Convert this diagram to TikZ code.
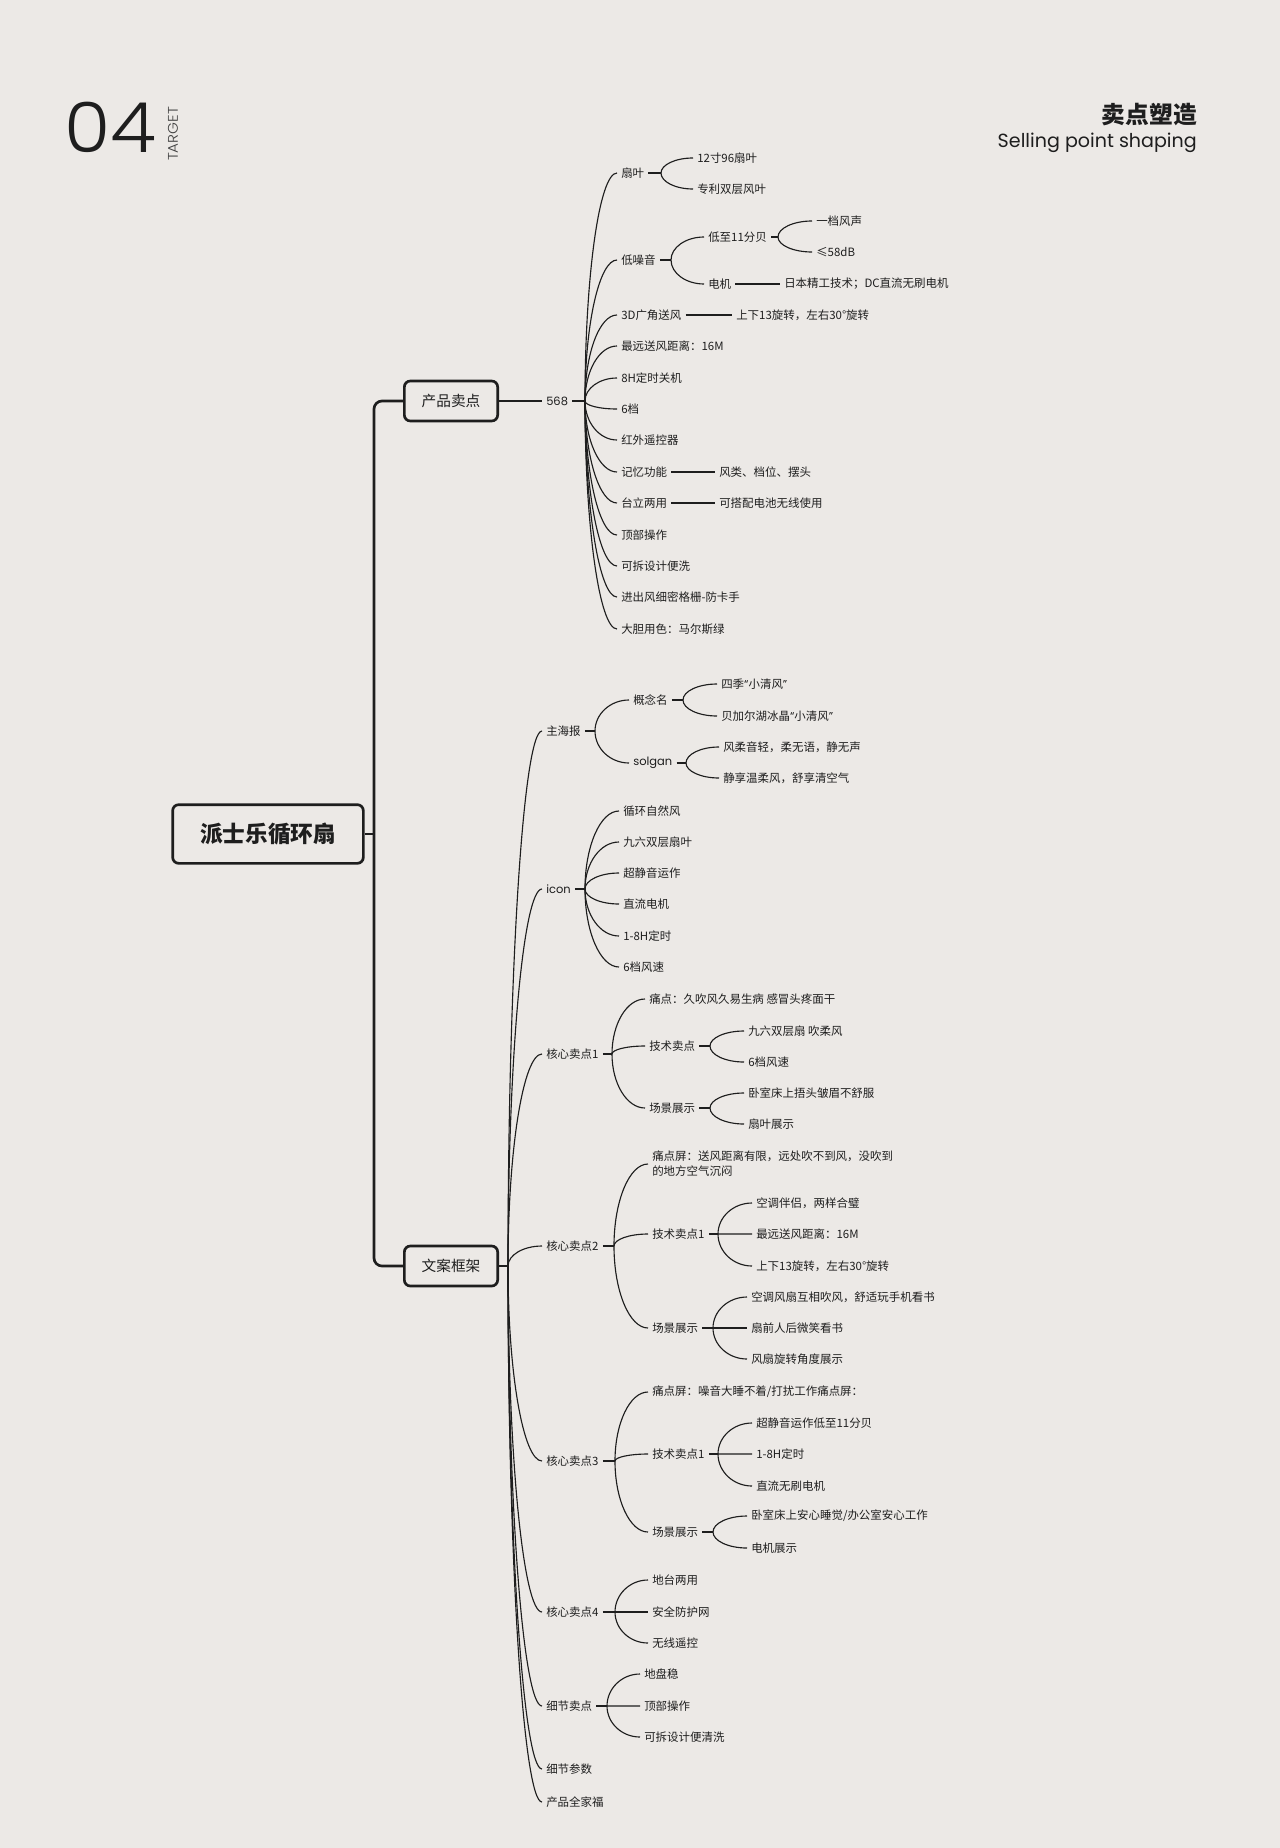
\documentclass[tikz,border=0pt]{standalone}
\usepackage{fontspec}
\setmainfont{Noto Sans CJK SC}
\newfontfamily\latinfont{Poppins}
\IfFontExistsTF{Poppins Light}{\newfontfamily\thinfont[FakeStretch=1.08]{Poppins Light}}{\newfontfamily\thinfont[FakeStretch=1.08]{Poppins}}
\usetikzlibrary{positioning,calc}
\definecolor{paper}{RGB}{236,233,230}
\definecolor{ink}{RGB}{30,30,30}

\begin{document}
\begin{tikzpicture}[x=0.75pt,y=-0.75pt,every node/.style={text=ink},leaf/.style={anchor=west,inner xsep=3pt,inner ysep=1pt,font=\fontsize{8.6}{10.5}\selectfont},latin/.style={font=\fontsize{8.6}{10.5}\selectfont\latinfont},box/.style={draw=ink,line width=2pt,rounded corners=4.5pt,minimum width=70pt,minimum height=30pt,font=\fontsize{11}{13}\selectfont},trunk/.style={draw=ink,line width=2pt,rounded corners=6pt},stub/.style={draw=ink,line width=0.85pt},branch/.style={draw=ink,line width=0.85pt,to path={.. controls ($(\tikztostart)!0.55!(\tikztostart |- \tikztotarget)$) and ($(\tikztotarget)!0.55!(\tikztostart |- \tikztotarget)$) .. (\tikztotarget)}}]
\fill[paper] (0,0) rectangle (1280,1848);
\useasboundingbox (0,0) rectangle (1280,1848);
% header
\node[font=\thinfont\fontsize{52}{52}\selectfont,inner sep=0pt,anchor=base west] (num) at (64,153){04};
\node[font=\thinfont\fontsize{10.5}{10.5}\selectfont,rotate=90,inner sep=0pt,text=ink!85] (tag) at (173,134){TARGET};
\node[anchor=east,font=\fontsize{17.8}{20}\selectfont\bfseries,inner sep=0pt] (titlecn) at (1197,115){卖点塑造};
\node[anchor=base east,font=\fontsize{14.3}{17}\selectfont\latinfont,inner sep=0pt] (titleen) at (1197,148){Selling point shaping};
% root and main branches
\node[box,minimum width=143pt,minimum height=44pt,font=\fontsize{17}{20}\selectfont\bfseries] (root) at (268,834){派士乐循环扇};
\coordinate (spine) at (374,834);
\node[box] (prod) at (451,401){产品卖点};
\node[box] (copy) at (451,1266){文案框架};
% product selling points
\node[leaf,latin] (n568) at (542,401){568};
\coordinate (f568) at (585,401);
\node[leaf] (blade) at (617,173){扇叶};
\coordinate (bladeF) at (661,173);
\node[leaf] (blade1) at (693,158){12寸96扇叶};
\node[leaf] (blade2) at (693,189){专利双层风叶};
\node[leaf] (noise) at (617,260){低噪音};
\coordinate (noiseF) at (671,260);
\node[leaf] (low) at (704,237){低至11分贝};
\coordinate (lowF) at (778,237);
\node[leaf] (low1) at (812,221){一档风声};
\node[leaf] (low2) at (812,252){≤58dB};
\node[leaf] (motor) at (704,284){电机};
\node[leaf] (motor1) at (780,284){日本精工技术；DC直流无刷电机};
\node[leaf] (wide) at (617,315){3D广角送风};
\node[leaf] (wide1) at (732,315){上下13旋转，左右30°旋转};
\node[leaf] (reach) at (617,346){最远送风距离：16M};
\node[leaf] (timer) at (617,378){8H定时关机};
\node[leaf] (gears) at (617,409){6档};
\node[leaf] (remote) at (617,440){红外遥控器};
\node[leaf] (memory) at (617,472){记忆功能};
\node[leaf] (memory1) at (715,472){风类、档位、摆头};
\node[leaf] (dual) at (617,503){台立两用};
\node[leaf] (dual1) at (715,503){可搭配电池无线使用};
\node[leaf] (topop) at (617,535){顶部操作};
\node[leaf] (wash) at (617,566){可拆设计便洗};
\node[leaf] (grille) at (617,597){进出风细密格栅-防卡手};
\node[leaf] (color) at (617,629){大胆用色：马尔斯绿};
% copy framework
\coordinate (fcopy) at (508,1266);
\node[leaf] (poster) at (542,731){主海报};
\coordinate (posterF) at (595,731);
\node[leaf] (concept) at (629,700){概念名};
\coordinate (conceptF) at (683,700);
\node[leaf] (concept1) at (717,684){四季{\latinfont“}小清风{\latinfont”}};
\node[leaf] (concept2) at (717,716){贝加尔湖冰晶{\latinfont“}小清风{\latinfont”}};
\node[leaf,latin] (slogan) at (629,763){solgan};
\coordinate (sloganF) at (686,763);
\node[leaf] (slogan1) at (719,747){风柔音轻，柔无语，静无声};
\node[leaf] (slogan2) at (719,778){静享温柔风，舒享清空气};
\node[leaf,latin] (icon) at (542,889){icon};
\coordinate (iconF) at (585,889);
\node[leaf] (icon1) at (619,811){循环自然风};
\node[leaf] (icon2) at (619,842){九六双层扇叶};
\node[leaf] (icon3) at (619,873){超静音运作};
\node[leaf] (icon4) at (619,904){直流电机};
\node[leaf] (icon5) at (619,936){1-8H定时};
\node[leaf] (icon6) at (619,967){6档风速};
\node[leaf] (core1) at (542,1054){核心卖点1};
\coordinate (core1F) at (612,1054);
\node[leaf] (core1pain) at (645,999){痛点：久吹风久易生病 感冒头疼面干};
\node[leaf] (core1tech) at (645,1046){技术卖点};
\coordinate (core1techF) at (710,1046);
\node[leaf] (core1tech1) at (744,1031){九六双层扇 吹柔风};
\node[leaf] (core1tech2) at (744,1062){6档风速};
\node[leaf] (core1scene) at (645,1108){场景展示};
\coordinate (core1sceneF) at (710,1108);
\node[leaf] (core1scene1) at (744,1093){卧室床上捂头皱眉不舒服};
\node[leaf] (core1scene2) at (744,1124){扇叶展示};
\node[leaf] (core2) at (542,1246){核心卖点2};
\coordinate (core2F) at (614,1246);
\node[leaf,align=left,font=\fontsize{8.6}{11.25}\selectfont] (core2pain) at (648,1164){痛点屏：送风距离有限，远处吹不到风，没吹到\\的地方空气沉闷};
\node[leaf] (core2tech) at (648,1234){技术卖点1};
\coordinate (core2techF) at (718,1234);
\node[leaf] (core2tech1) at (752,1203){空调伴侣，两样合璧};
\node[leaf] (core2tech2) at (752,1234){最远送风距离：16M};
\node[leaf] (core2tech3) at (752,1266){上下13旋转，左右30°旋转};
\node[leaf] (core2scene) at (648,1328){场景展示};
\coordinate (core2sceneF) at (713,1328);
\node[leaf] (core2scene1) at (747,1297){空调风扇互相吹风，舒适玩手机看书};
\node[leaf] (core2scene2) at (747,1328){扇前人后微笑看书};
\node[leaf] (core2scene3) at (747,1359){风扇旋转角度展示};
\node[leaf] (core3) at (542,1461){核心卖点3};
\coordinate (core3F) at (615,1461);
\node[leaf] (core3pain) at (648,1392){痛点屏：噪音大睡不着/打扰工作痛点屏：};
\node[leaf] (core3tech) at (648,1454){技术卖点1};
\coordinate (core3techF) at (718,1454);
\node[leaf] (core3tech1) at (752,1423){超静音运作低至11分贝};
\node[leaf] (core3tech2) at (752,1454){1-8H定时};
\node[leaf] (core3tech3) at (752,1486){直流无刷电机};
\node[leaf] (core3scene) at (648,1532){场景展示};
\coordinate (core3sceneF) at (713,1532);
\node[leaf] (core3scene1) at (747,1516){卧室床上安心睡觉/办公室安心工作};
\node[leaf] (core3scene2) at (747,1548){电机展示};
\node[leaf] (core4) at (542,1612){核心卖点4};
\coordinate (core4F) at (615,1612);
\node[leaf] (core4a) at (648,1580){地台两用};
\node[leaf] (core4b) at (648,1612){安全防护网};
\node[leaf] (core4c) at (648,1643){无线遥控};
\node[leaf] (detail) at (542,1706){细节卖点};
\coordinate (detailF) at (607,1706);
\node[leaf] (detail1) at (640,1674){地盘稳};
\node[leaf] (detail2) at (640,1706){顶部操作};
\node[leaf] (detail3) at (640,1737){可拆设计便清洗};
\node[leaf] (params) at (542,1769){细节参数};
\node[leaf] (family) at (542,1802){产品全家福};
% connectors
\draw[trunk] (prod.west) -| (spine) |- (copy.west); \draw[trunk] (root.east) -- (spine);
\draw[stub,line width=1pt] (prod.east) -- (n568.west); \draw[stub] (n568.east) -- (f568); \draw[stub,line width=1pt] (copy.east) -- (fcopy);
\draw[branch] (f568) to (blade.west); \draw[branch] (f568) to (noise.west); \draw[branch] (f568) to (wide.west); \draw[branch] (f568) to (reach.west); \draw[branch] (f568) to (timer.west); \draw[branch] (f568) to (gears.west); \draw[branch] (f568) to (remote.west); \draw[branch] (f568) to (memory.west); \draw[branch] (f568) to (dual.west); \draw[branch] (f568) to (topop.west); \draw[branch] (f568) to (wash.west); \draw[branch] (f568) to (grille.west); \draw[branch] (f568) to (color.west);
\draw[stub] (blade.east) -- (bladeF); \draw[branch] (bladeF) to (blade1.west); \draw[branch] (bladeF) to (blade2.west);
\draw[stub] (noise.east) -- (noiseF); \draw[branch] (noiseF) to (low.west); \draw[branch] (noiseF) to (motor.west); \draw[stub] (low.east) -- (lowF); \draw[branch] (lowF) to (low1.west); \draw[branch] (lowF) to (low2.west);
\draw[stub] (motor.east) -- (motor1.west); \draw[stub] (wide.east) -- (wide1.west); \draw[stub] (memory.east) -- (memory1.west); \draw[stub] (dual.east) -- (dual1.west);
\draw[branch] (fcopy) to (poster.west); \draw[branch] (fcopy) to (icon.west); \draw[branch] (fcopy) to (core1.west); \draw[branch] (fcopy) to (core2.west); \draw[branch] (fcopy) to (core3.west); \draw[branch] (fcopy) to (core4.west); \draw[branch] (fcopy) to (detail.west); \draw[branch] (fcopy) to (params.west); \draw[branch] (fcopy) to (family.west);
\draw[stub] (poster.east) -- (posterF); \draw[branch] (posterF) to (concept.west); \draw[branch] (posterF) to (slogan.west); \draw[stub] (concept.east) -- (conceptF); \draw[branch] (conceptF) to (concept1.west); \draw[branch] (conceptF) to (concept2.west); \draw[stub] (slogan.east) -- (sloganF); \draw[branch] (sloganF) to (slogan1.west); \draw[branch] (sloganF) to (slogan2.west);
\draw[stub] (icon.east) -- (iconF); \draw[branch] (iconF) to (icon1.west); \draw[branch] (iconF) to (icon2.west); \draw[branch] (iconF) to (icon3.west); \draw[branch] (iconF) to (icon4.west); \draw[branch] (iconF) to (icon5.west); \draw[branch] (iconF) to (icon6.west);
\draw[stub] (core1.east) -- (core1F); \draw[branch] (core1F) to (core1pain.west); \draw[branch] (core1F) to (core1tech.west); \draw[branch] (core1F) to (core1scene.west); \draw[stub] (core1tech.east) -- (core1techF); \draw[branch] (core1techF) to (core1tech1.west); \draw[branch] (core1techF) to (core1tech2.west); \draw[stub] (core1scene.east) -- (core1sceneF); \draw[branch] (core1sceneF) to (core1scene1.west); \draw[branch] (core1sceneF) to (core1scene2.west);
\draw[stub] (core2.east) -- (core2F); \draw[branch] (core2F) to (core2pain.west); \draw[branch] (core2F) to (core2tech.west); \draw[branch] (core2F) to (core2scene.west); \draw[stub] (core2tech.east) -- (core2techF); \draw[branch] (core2techF) to (core2tech1.west); \draw[branch] (core2techF) to (core2tech2.west); \draw[branch] (core2techF) to (core2tech3.west); \draw[stub] (core2scene.east) -- (core2sceneF); \draw[branch] (core2sceneF) to (core2scene1.west); \draw[branch] (core2sceneF) to (core2scene2.west); \draw[branch] (core2sceneF) to (core2scene3.west);
\draw[stub] (core3.east) -- (core3F); \draw[branch] (core3F) to (core3pain.west); \draw[branch] (core3F) to (core3tech.west); \draw[branch] (core3F) to (core3scene.west); \draw[stub] (core3tech.east) -- (core3techF); \draw[branch] (core3techF) to (core3tech1.west); \draw[branch] (core3techF) to (core3tech2.west); \draw[branch] (core3techF) to (core3tech3.west); \draw[stub] (core3scene.east) -- (core3sceneF); \draw[branch] (core3sceneF) to (core3scene1.west); \draw[branch] (core3sceneF) to (core3scene2.west);
\draw[stub] (core4.east) -- (core4F); \draw[branch] (core4F) to (core4a.west); \draw[branch] (core4F) to (core4b.west); \draw[branch] (core4F) to (core4c.west);
\draw[stub] (detail.east) -- (detailF); \draw[branch] (detailF) to (detail1.west); \draw[branch] (detailF) to (detail2.west); \draw[branch] (detailF) to (detail3.west);
\end{tikzpicture}
\end{document}
